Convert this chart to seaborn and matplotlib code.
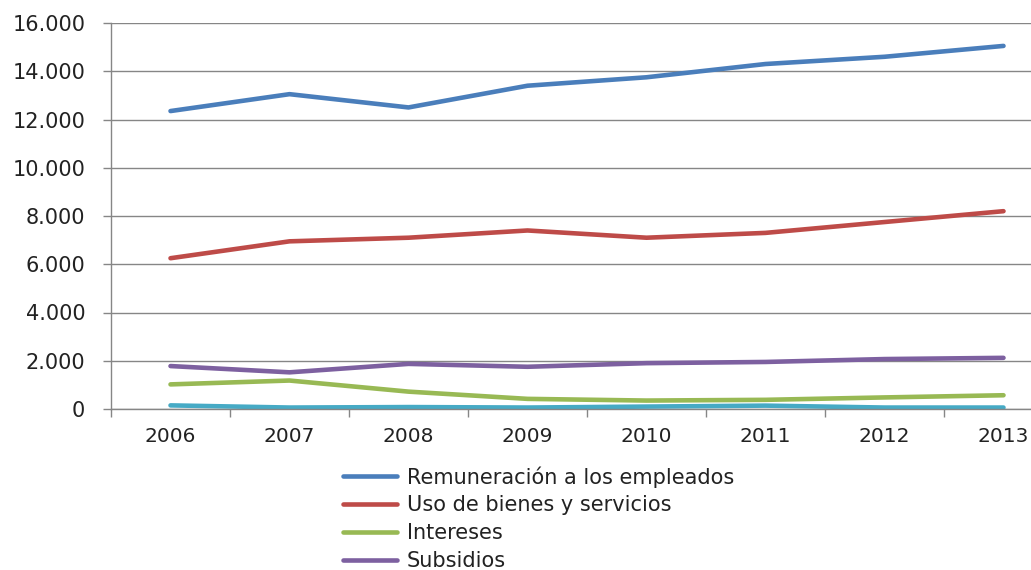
import pandas as pd
import matplotlib
matplotlib.use("Agg")
import matplotlib.pyplot as plt
import seaborn as sns
from matplotlib.ticker import FuncFormatter, FixedLocator

# data
years = ["2006", "2007", "2008", "2009", "2010", "2011", "2012", "2013"]
remuneracion = [12350, 13050, 12500, 13400, 13750, 14300, 14600, 15050]
bienes = [6250, 6950, 7100, 7400, 7100, 7300, 7750, 8200]
intereses = [1020, 1180, 720, 420, 350, 380, 480, 570]
subsidios = [1780, 1520, 1870, 1750, 1900, 1950, 2070, 2120]
otros = [150, 60, 80, 60, 100, 140, 60, 60]

names = ["Remuneración a los empleados", "Uso de bienes y servicios",
         "Intereses", "Subsidios", "Otros gastos"]
colors = ["#4A7EBB", "#BE4B48", "#98B954", "#7D60A0", "#46AAC5"]

rows = []
for name, vals in zip(names, [remuneracion, bienes, intereses, subsidios, otros]):
    for i, v in enumerate(vals):
        rows.append({"pos": i, "serie": name, "valor": v})
df = pd.DataFrame(rows)

sns.set_theme(style="white")
plt.rcParams["font.family"] = ["DejaVu Sans"]

W, H = 1031, 570
fig = plt.figure(figsize=(W / 100, H / 100), dpi=100)
# axes spans 111..1063 px horizontally (right part falls outside the image)
ax = fig.add_axes([111 / W, 1 - 409 / H, 952 / W, (409 - 23) / H])

sns.lineplot(data=df, x="pos", y="valor", hue="serie", palette=colors,
             linewidth=3.3, ax=ax, legend=False, solid_capstyle="round")

ax.set_xlim(-0.5, 7.5)
ax.set_ylim(0, 16000)
ax.set_yticks(range(0, 16001, 2000))
ax.yaxis.set_major_formatter(FuncFormatter(lambda v, p: f"{v:,.0f}".replace(",", ".")))
ax.set_xticks(range(8))
ax.set_xticklabels(years)
ax.xaxis.set_minor_locator(FixedLocator([i - 0.5 for i in range(9)]))
ax.tick_params(axis="x", which="major", length=0, pad=13, labelsize=14.5,
               colors="#222222", top=False)
ax.tick_params(axis="x", which="minor", length=6, width=1, color="#868686",
               bottom=True, top=False)
ax.tick_params(axis="y", length=6, width=1, color="#868686", left=True, right=False,
               pad=12.5, labelsize=15, labelcolor="#222222")
ax.set_xlabel("")
ax.set_ylabel("")

ax.yaxis.grid(True, color="#868686", linewidth=1)
ax.set_axisbelow(True)
for s in ["top", "right"]:
    ax.spines[s].set_visible(False)
for s in ["left", "bottom"]:
    ax.spines[s].set_color("#868686")
    ax.spines[s].set_linewidth(1)

# only the first four entries are visible in the original (the rest is cropped)
handles = [plt.Line2D([], [], color=c, linewidth=3.3) for c in colors[:4]]
fig.legend(handles, names[:4], loc="upper left", bbox_to_anchor=(343 / W, 1 - 466 / H),
           frameon=False, fontsize=15, handlelength=2.6, handletextpad=0.45,
           labelspacing=0.38, borderpad=0, borderaxespad=0, labelcolor="#222222")

fig.savefig("out.png", dpi=100)
